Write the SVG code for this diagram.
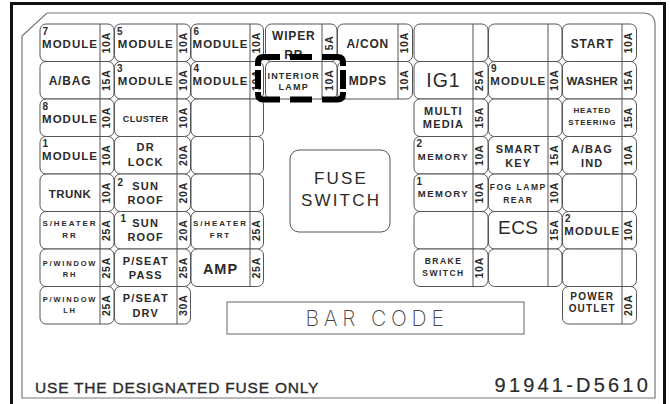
<svg xmlns="http://www.w3.org/2000/svg" width="670" height="404" viewBox="0 0 670 404">
<style>
.b{fill:#fff;stroke:#555;stroke-width:1}
.d{stroke:#555;stroke-width:1;fill:none}
text{font-family:"Liberation Sans",Arial,sans-serif;fill:#2b2b2b}
.t{font-weight:bold;text-anchor:middle}
.n{font-weight:bold;font-size:10px}
.m{font-size:11.5px;letter-spacing:1px}
.a{font-weight:bold;font-size:10.5px;text-anchor:middle;letter-spacing:0.8px}
.s12{font-size:12px;letter-spacing:0.8px}
.s11{font-size:11px;letter-spacing:1.2px}
.s9{font-size:9px;letter-spacing:1.2px}
.s8{font-size:8px;letter-spacing:0.9px}
.s85{font-size:8.5px;letter-spacing:1.5px}
.sh{font-size:8px;letter-spacing:1.9px}
.pw{font-size:7.5px;letter-spacing:1.8px}
.big{font-weight:normal;text-anchor:middle}
</style>
<rect x="0" y="0" width="670" height="404" fill="#fff"/>
<rect x="11.5" y="3.5" width="653" height="410" fill="none" stroke="#111" stroke-width="3"/>
<path d="M22 36 L47 13 H643 Q655 13 655 25 V398 H22 Z" fill="none" stroke="#777" stroke-width="1.2"/>

<g id="connectors"/>

<!-- Row 0 -->
<g id="f-module7"><rect class="b" x="40" y="24" width="74" height="37.5" rx="6"/><path class="d" d="M100 24V61.5"/><text class="n" x="42.5" y="34.5">7</text><text class="t m" x="70" y="47.75">MODULE</text><text class="a" transform="translate(106.5 42.75) rotate(-90)" y="3.7">10A</text></g>
<g id="f-module5"><rect class="b" x="114.5" y="24" width="76" height="37.5" rx="6"/><path class="d" d="M177 24V61.5"/><text class="n" x="117" y="34.5">5</text><text class="t m" x="145.75" y="47.75">MODULE</text><text class="a" transform="translate(183.5 42.75) rotate(-90)" y="3.7">10A</text></g>
<g id="f-module6"><rect class="b" x="191" y="24" width="72.5" height="37.5" rx="6"/><path class="d" d="M250 24V61.5"/><text class="n" x="193.5" y="34.5">6</text><text class="t m" x="220.5" y="47.75">MODULE</text><text class="a" transform="translate(256.5 42.75) rotate(-90)" y="3.7">10A</text></g>
<g id="f-wiper"><rect class="b" x="265.5" y="24" width="71.5" height="37.5" rx="6"/><path class="d" d="M322 24V61.5"/><text class="t s12" x="293.75" y="40">WIPER</text><text class="t s12" x="293.75" y="58.5">RR</text><text class="a" transform="translate(329 42.75) rotate(-90)" y="3.7">5A</text></g>
<g id="f-acon"><rect class="b" x="337.5" y="24" width="75" height="37.5" rx="6"/><path class="d" d="M398 24V61.5"/><text class="t s12" x="367.75" y="47.5">A/CON</text><text class="a" transform="translate(404.5 42.75) rotate(-90)" y="3.7">10A</text></g>
<g id="f-empty-d0"><rect class="b" x="414" y="24" width="74" height="37.5" rx="6"/><path class="d" d="M473 24V61.5"/></g>
<g id="f-empty-e0"><rect class="b" x="488.5" y="24" width="73.5" height="37.5" rx="6"/><path class="d" d="M548 24V61.5"/></g>
<g id="f-start"><rect class="b" x="562.5" y="24" width="74" height="37.5" rx="6"/><path class="d" d="M622 24V61.5"/><text class="t s12" x="592.25" y="47.5">START</text><text class="a" transform="translate(628.5 42.75) rotate(-90)" y="3.7">10A</text></g>

<!-- Row 1 -->
<g id="f-abag"><rect class="b" x="40" y="61.5" width="74" height="37.5" rx="6"/><path class="d" d="M100 61.5V99"/><text class="t s12" x="70" y="85">A/BAG</text><text class="a" transform="translate(106.5 80.25) rotate(-90)" y="3.7">15A</text></g>
<g id="f-module3"><rect class="b" x="114.5" y="61.5" width="76" height="37.5" rx="6"/><path class="d" d="M177 61.5V99"/><text class="n" x="117" y="72">3</text><text class="t m" x="145.75" y="85.25">MODULE</text><text class="a" transform="translate(183.5 80.25) rotate(-90)" y="3.7">10A</text></g>
<g id="f-module4"><rect class="b" x="191" y="61.5" width="72.5" height="37.5" rx="6"/><path class="d" d="M250 61.5V99"/><text class="n" x="193.5" y="72">4</text><text class="t m" x="220.5" y="85.25">MODULE</text><text class="a" transform="translate(256.5 80.25) rotate(-90)" y="3.7">10A</text></g>
<g id="f-interior-lamp"><rect class="b" x="265.5" y="61.5" width="71.5" height="37.5" rx="6"/><path class="d" d="M322 61.5V99"/><text class="t s9" x="293.75" y="78.5">INTERIOR</text><text class="t s9" x="293.75" y="90">LAMP</text><text class="a" transform="translate(329 80.25) rotate(-90)" y="3.7">10A</text></g>
<g id="f-mdps"><rect class="b" x="337.5" y="61.5" width="75" height="37.5" rx="6"/><path class="d" d="M398 61.5V99"/><text class="t s12" x="367.75" y="85">MDPS</text><text class="a" transform="translate(404.5 80.25) rotate(-90)" y="3.7">10A</text></g>
<g id="f-ig1"><rect class="b" x="414" y="61.5" width="74" height="37.5" rx="6"/><path class="d" d="M473 61.5V99"/><text class="big" x="443.5" y="87" style="font-size:19.5px;letter-spacing:1px">IG1</text><text class="a" transform="translate(479.5 80.25) rotate(-90)" y="3.7">25A</text></g>
<g id="f-module9"><rect class="b" x="488.5" y="61.5" width="73.5" height="37.5" rx="6"/><path class="d" d="M548 61.5V99"/><text class="n" x="491" y="72">9</text><text class="t m" x="518.25" y="85.25">MODULE</text><text class="a" transform="translate(554.5 80.25) rotate(-90)" y="3.7">10A</text></g>
<g id="f-washer"><rect class="b" x="562.5" y="61.5" width="74" height="37.5" rx="6"/><path class="d" d="M622 61.5V99"/><text class="t" x="592.25" y="85" style="font-size:11.5px;letter-spacing:0.2px">WASHER</text><text class="a" transform="translate(628.5 80.25) rotate(-90)" y="3.7">15A</text></g>

<!-- Row 2 -->
<g id="f-module8"><rect class="b" x="40" y="99" width="74" height="37.5" rx="6"/><path class="d" d="M100 99V136.5"/><text class="n" x="42.5" y="109.5">8</text><text class="t m" x="70" y="122.75">MODULE</text><text class="a" transform="translate(106.5 117.75) rotate(-90)" y="3.7">10A</text></g>
<g id="f-cluster"><rect class="b" x="114.5" y="99" width="76" height="37.5" rx="6"/><path class="d" d="M177 99V136.5"/><text class="t" x="145.75" y="121.5" style="font-size:9px;letter-spacing:0.5px">CLUSTER</text><text class="a" transform="translate(183.5 117.75) rotate(-90)" y="3.7">10A</text></g>
<g id="f-empty-c2"><rect class="b" x="191" y="99" width="72.5" height="37.5" rx="6"/><path class="d" d="M250 99V136.5"/></g>
<g id="f-multimedia"><rect class="b" x="414" y="99" width="74" height="37.5" rx="6"/><path class="d" d="M473 99V136.5"/><text class="t s11" x="443.5" y="115">MULTI</text><text class="t s11" x="443.5" y="128">MEDIA</text><text class="a" transform="translate(479.5 117.75) rotate(-90)" y="3.7">15A</text></g>
<g id="f-empty-e2"><rect class="b" x="488.5" y="99" width="73.5" height="37.5" rx="6"/><path class="d" d="M548 99V136.5"/></g>
<g id="f-heated-steering"><rect class="b" x="562.5" y="99" width="74" height="37.5" rx="6"/><path class="d" d="M622 99V136.5"/><text class="t s8" x="592.25" y="113">HEATED</text><text class="t s8" x="592.25" y="125">STEERING</text><text class="a" transform="translate(628.5 117.75) rotate(-90)" y="3.7">15A</text></g>

<!-- Row 3 -->
<g id="f-module1"><rect class="b" x="40" y="136.5" width="74" height="37.5" rx="6"/><path class="d" d="M100 136.5V174"/><text class="n" x="42.5" y="147">1</text><text class="t m" x="70" y="160.25">MODULE</text><text class="a" transform="translate(106.5 155.25) rotate(-90)" y="3.7">10A</text></g>
<g id="f-drlock"><rect class="b" x="114.5" y="136.5" width="76" height="37.5" rx="6"/><path class="d" d="M177 136.5V174"/><text class="t s11" x="145.75" y="151">DR</text><text class="t s11" x="145.75" y="166">LOCK</text><text class="a" transform="translate(183.5 155.25) rotate(-90)" y="3.7">20A</text></g>
<g id="f-empty-c3"><rect class="b" x="191" y="136.5" width="72.5" height="37.5" rx="6"/><path class="d" d="M250 136.5V174"/></g>
<g id="f-memory2"><rect class="b" x="414" y="136.5" width="74" height="37.5" rx="6"/><path class="d" d="M473 136.5V174"/><text class="n" x="416.5" y="147">2</text><text class="t" x="443.5" y="159.5" style="font-size:9.5px;letter-spacing:1.5px">MEMORY</text><text class="a" transform="translate(479.5 155.25) rotate(-90)" y="3.7">10A</text></g>
<g id="f-smartkey"><rect class="b" x="488.5" y="136.5" width="73.5" height="37.5" rx="6"/><path class="d" d="M548 136.5V174"/><text class="t s11" x="518.25" y="153">SMART</text><text class="t s11" x="518.25" y="166.5">KEY</text><text class="a" transform="translate(554.5 155.25) rotate(-90)" y="3.7">15A</text></g>
<g id="f-abag-ind"><rect class="b" x="562.5" y="136.5" width="74" height="37.5" rx="6"/><path class="d" d="M622 136.5V174"/><text class="t s11" x="592.25" y="153">A/BAG</text><text class="t s11" x="592.25" y="166.5">IND</text><text class="a" transform="translate(628.5 155.25) rotate(-90)" y="3.7">10A</text></g>

<!-- Row 4 -->
<g id="f-trunk"><rect class="b" x="40" y="174" width="74" height="37.5" rx="6"/><path class="d" d="M100 174V211.5"/><text class="t" x="70" y="197.5" style="font-size:11.5px;letter-spacing:0.5px">TRUNK</text><text class="a" transform="translate(106.5 192.75) rotate(-90)" y="3.7">10A</text></g>
<g id="f-sunroof2"><rect class="b" x="114.5" y="174" width="76" height="37.5" rx="6"/><path class="d" d="M177 174V211.5"/><text class="n" x="117.5" y="185.5">2</text><text class="t s11" x="145.75" y="189.5">SUN</text><text class="t s11" x="145.75" y="203.5">ROOF</text><text class="a" transform="translate(183.5 192.75) rotate(-90)" y="3.7">20A</text></g>
<g id="f-empty-c4"><rect class="b" x="191" y="174" width="72.5" height="37.5" rx="6"/><path class="d" d="M250 174V211.5"/></g>
<g id="f-memory1"><rect class="b" x="414" y="174" width="74" height="37.5" rx="6"/><path class="d" d="M473 174V211.5"/><text class="n" x="416.5" y="184.5">1</text><text class="t" x="443.5" y="197" style="font-size:9.5px;letter-spacing:1.5px">MEMORY</text><text class="a" transform="translate(479.5 192.75) rotate(-90)" y="3.7">10A</text></g>
<g id="f-foglamp-rear"><rect class="b" x="488.5" y="174" width="73.5" height="37.5" rx="6"/><path class="d" d="M548 174V211.5"/><text class="t s85" x="518.25" y="190">FOG LAMP</text><text class="t s85" x="518.25" y="202.5">REAR</text><text class="a" transform="translate(554.5 192.75) rotate(-90)" y="3.7">10A</text></g>
<g id="f-empty-f4"><rect class="b" x="562.5" y="174" width="74" height="37.5" rx="6"/><path class="d" d="M622 174V211.5"/></g>

<!-- Row 5 -->
<g id="f-sheater-rr"><rect class="b" x="40" y="211.5" width="74" height="37.5" rx="6"/><path class="d" d="M100 211.5V249"/><text class="t sh" x="70" y="226">S/HEATER</text><text class="t sh" x="70" y="237.5">RR</text><text class="a" transform="translate(106.5 230.25) rotate(-90)" y="3.7">25A</text></g>
<g id="f-sunroof1"><rect class="b" x="114.5" y="211.5" width="76" height="37.5" rx="6"/><path class="d" d="M177 211.5V249"/><text class="n" x="120.5" y="222">1</text><text class="t s11" x="145.75" y="227">SUN</text><text class="t s11" x="145.75" y="240.5">ROOF</text><text class="a" transform="translate(183.5 230.25) rotate(-90)" y="3.7">20A</text></g>
<g id="f-sheater-frt"><rect class="b" x="191" y="211.5" width="72.5" height="37.5" rx="6"/><path class="d" d="M250 211.5V249"/><text class="t sh" x="220.5" y="226">S/HEATER</text><text class="t sh" x="220.5" y="237.5">FRT</text><text class="a" transform="translate(256.5 230.25) rotate(-90)" y="3.7">25A</text></g>
<g id="f-empty-d5"><rect class="b" x="414" y="211.5" width="74" height="37.5" rx="6"/><path class="d" d="M473 211.5V249"/></g>
<g id="f-ecs"><rect class="b" x="488.5" y="211.5" width="73.5" height="37.5" rx="6"/><path class="d" d="M548 211.5V249"/><text class="big" x="518.25" y="234" style="font-size:19px;letter-spacing:0.5px">ECS</text><text class="a" transform="translate(554.5 230.25) rotate(-90)" y="3.7">15A</text></g>
<g id="f-module2"><rect class="b" x="562.5" y="211.5" width="74" height="37.5" rx="6"/><path class="d" d="M622 211.5V249"/><text class="n" x="565" y="222">2</text><text class="t m" x="592.25" y="235.25">MODULE</text><text class="a" transform="translate(628.5 230.25) rotate(-90)" y="3.7">10A</text></g>

<!-- Row 6 -->
<g id="f-pwindow-rh"><rect class="b" x="40" y="249" width="74" height="37.5" rx="6"/><path class="d" d="M100 249V286.5"/><text class="t pw" x="70" y="265.5">P/WINDOW</text><text class="t pw" x="70" y="277">RH</text><text class="a" transform="translate(106.5 267.75) rotate(-90)" y="3.7">25A</text></g>
<g id="f-pseat-pass"><rect class="b" x="114.5" y="249" width="76" height="37.5" rx="6"/><path class="d" d="M177 249V286.5"/><text class="t s11" x="145.75" y="265">P/SEAT</text><text class="t s11" x="145.75" y="278.5">PASS</text><text class="a" transform="translate(183.5 267.75) rotate(-90)" y="3.7">25A</text></g>
<g id="f-amp"><rect class="b" x="191" y="249" width="72.5" height="37.5" rx="6"/><path class="d" d="M250 249V286.5"/><text class="t" x="220.5" y="273.5" style="font-size:14.5px;letter-spacing:1px">AMP</text><text class="a" transform="translate(256.5 267.75) rotate(-90)" y="3.7">25A</text></g>
<g id="f-brake-switch"><rect class="b" x="414" y="249" width="74" height="37.5" rx="6"/><path class="d" d="M473 249V286.5"/><text class="t s85" x="443.5" y="264">BRAKE</text><text class="t s85" x="443.5" y="275.5">SWITCH</text><text class="a" transform="translate(479.5 267.75) rotate(-90)" y="3.7">10A</text></g>
<g id="f-empty-e6"><rect class="b" x="488.5" y="249" width="73.5" height="37.5" rx="6"/><path class="d" d="M548 249V286.5"/></g>
<g id="f-empty-f6"><rect class="b" x="562.5" y="249" width="74" height="37.5" rx="6"/><path class="d" d="M622 249V286.5"/></g>

<!-- Row 7 -->
<g id="f-pwindow-lh"><rect class="b" x="40" y="286.5" width="74" height="37.5" rx="6"/><path class="d" d="M100 286.5V324"/><text class="t pw" x="70" y="301.5">P/WINDOW</text><text class="t pw" x="70" y="313">LH</text><text class="a" transform="translate(106.5 305.25) rotate(-90)" y="3.7">25A</text></g>
<g id="f-pseat-drv"><rect class="b" x="114.5" y="286.5" width="76" height="37.5" rx="6"/><path class="d" d="M177 286.5V324"/><text class="t s11" x="145.75" y="302">P/SEAT</text><text class="t s11" x="145.75" y="317">DRV</text><text class="a" transform="translate(183.5 305.25) rotate(-90)" y="3.7">30A</text></g>
<g id="f-power-outlet"><rect class="b" x="562.5" y="286.5" width="74" height="37.5" rx="6"/><path class="d" d="M622 286.5V324"/><text class="t" x="592.25" y="300" style="font-size:10px;letter-spacing:1.2px">POWER</text><text class="t" x="592.25" y="312" style="font-size:10px;letter-spacing:1.2px">OUTLET</text><text class="a" transform="translate(628.5 305.25) rotate(-90)" y="3.7">20A</text></g>

<!-- Fuse switch -->
<g id="fuse-switch"><rect class="b" x="290" y="150" width="100" height="82" rx="9"/><text class="big" x="341" y="184" style="font-size:17px;letter-spacing:2.2px">FUSE</text><text class="big" x="341" y="206" style="font-size:17px;letter-spacing:2.2px">SWITCH</text></g>

<!-- Bar code -->
<g id="bar-code"><rect x="227" y="302" width="297" height="32" fill="#fff" stroke="#666" stroke-width="1"/><text x="377" y="326" text-anchor="middle" style="font-family:Inter,'DejaVu Sans',sans-serif;font-weight:200;font-size:21px;letter-spacing:4.8px;fill:#444">BAR CODE</text></g>

<!-- Highlight -->
<g id="highlight" fill="none" stroke="#000" stroke-width="6">
<path d="M258 66 V62.5 Q258 57 263.5 57 H280"/>
<path d="M290 57 H312"/>
<path d="M322 57 H337.5 Q343 57 343 62.5 V66"/>
<path d="M343 70 V89"/>
<path d="M343 92 V94 Q343 99.5 337.5 99.5 H322"/>
<path d="M290 99.5 H312"/>
<path d="M280 99.5 H263.5 Q258 99.5 258 94 V92"/>
<path d="M258 70 V89"/>
</g>

<!-- Footer -->
<text x="35" y="393" style="font-size:15.5px;letter-spacing:0.8px;stroke:#2b2b2b;stroke-width:0.35">USE THE DESIGNATED FUSE ONLY</text>
<text x="651" y="392" text-anchor="end" style="font-size:20px;letter-spacing:3.2px;stroke:#2b2b2b;stroke-width:0.2">91941-D5610</text>
</svg>
